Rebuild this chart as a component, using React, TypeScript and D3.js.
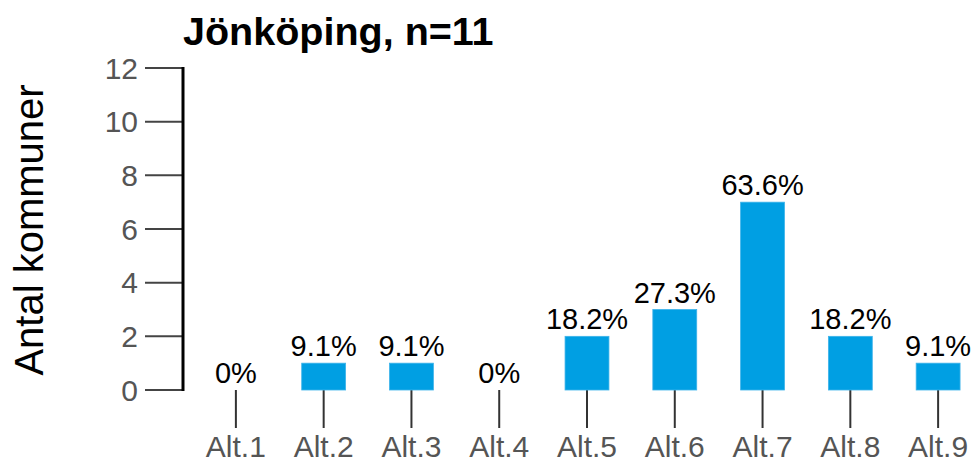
import React from 'react';
import * as d3 from 'd3';

// Jönköping, n=11 — antal kommuner per alternativ
const categories = ['Alt.1', 'Alt.2', 'Alt.3', 'Alt.4', 'Alt.5', 'Alt.6', 'Alt.7', 'Alt.8', 'Alt.9'];
const counts = [0, 1, 1, 0, 2, 3, 7, 2, 1];
const percentLabels = ['0%', '9.1%', '9.1%', '0%', '18.2%', '27.3%', '63.6%', '18.2%', '9.1%'];
const yTicks = [0, 2, 4, 6, 8, 10, 12];

const W = 978, H = 461;
const FONT = '"Liberation Sans", Arial, sans-serif';
const BAR = '#009FE3';

export default function App() {
  const x = d3.scaleBand<string>()
    .domain(categories)
    .range([192, 982])
    .paddingInner(0.5)
    .paddingOuter(0.25);

  const y = d3.scaleLinear().domain([0, 12]).range([390, 68]);

  const axisX = 183;

  return (
    <div style={{ position: 'absolute', left: 0, top: 0 }}>
      <svg width={W} height={H} style={{ display: 'block', background: '#fff' }} fontFamily={FONT}>
        {/* title */}
        <text x={183} y={45} fontSize={39.5} fontWeight="bold" fill="#000">Jönköping, n=11</text>

        {/* y axis title */}
        <text transform={`translate(43,${230}) rotate(-90)`} textAnchor="middle" fontSize={40} fill="#000">
          Antal kommuner
        </text>

        {/* y axis */}
        {yTicks.map(t => (
          <g key={t}>
            <line x1={145} x2={axisX} y1={y(t)} y2={y(t)} stroke="#444" strokeWidth={2} />
            <text x={138} y={y(t)} dy="0.36em" textAnchor="end" fontSize={30} fill="#555">{t}</text>
          </g>
        ))}
        <line x1={axisX} x2={axisX} y1={y(12) - 1} y2={y(0) + 1} stroke="#000" strokeWidth={3} />

        {/* x ticks and labels */}
        {categories.map(c => {
          const cx = (x(c) ?? 0) + x.bandwidth() / 2;
          return (
            <g key={c}>
              <line x1={cx} x2={cx} y1={y(0)} y2={428} stroke="#333" strokeWidth={2} />
              <text x={cx} y={457} textAnchor="middle" fontSize={30} fill="#555">{c}</text>
            </g>
          );
        })}

        {/* bars */}
        {categories.map((c, i) => (
          counts[i] > 0 ? (
            <rect key={c} x={x(c)} y={y(counts[i])} width={x.bandwidth()} height={y(0) - y(counts[i])}
              fill={BAR} stroke="#3DB3EA" strokeWidth={0.8} />
          ) : null
        ))}

        {/* percent labels */}
        {categories.map((c, i) => (
          <text key={c} x={(x(c) ?? 0) + x.bandwidth() / 2} y={y(counts[i]) - 7}
            textAnchor="middle" fontSize={29} fill="#000">{percentLabels[i]}</text>
        ))}
      </svg>
    </div>
  );
}
